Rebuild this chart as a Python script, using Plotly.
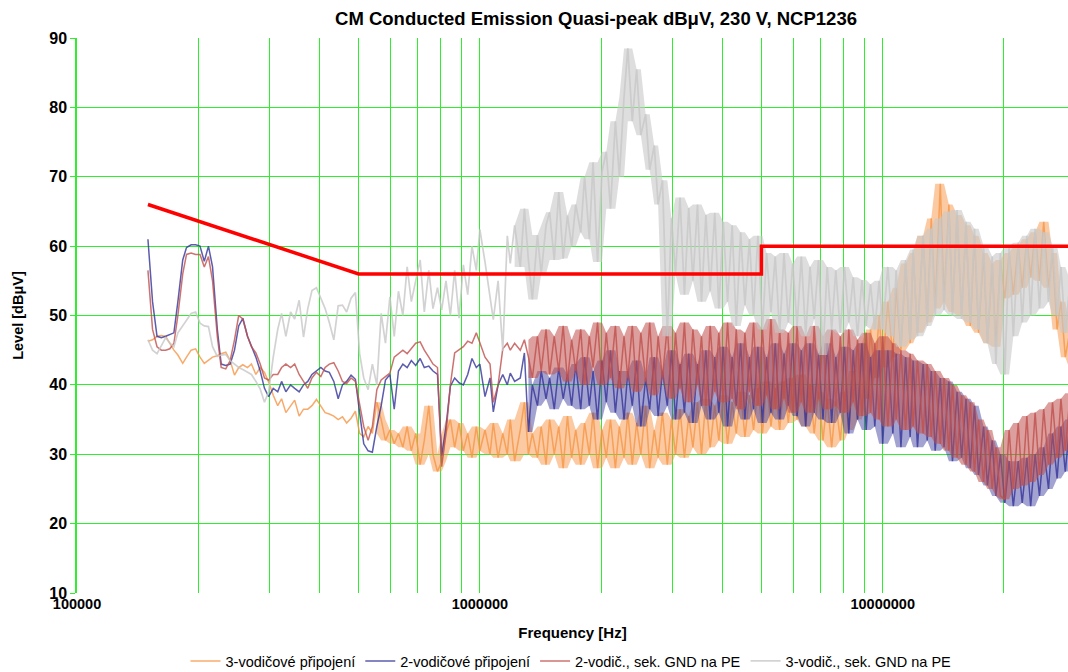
import plotly.graph_objects as go

# ---------------- data ----------------
freq_mhz = [
    0.150, 0.154, 0.158, 0.162, 0.166, 0.170, 0.174, 0.178, 0.183, 0.187,
    0.192, 0.197, 0.202, 0.207, 0.212, 0.217, 0.223, 0.228, 0.234, 0.240,
    0.246, 0.252, 0.258, 0.265, 0.271, 0.278, 0.285, 0.292, 0.299, 0.307,
    0.315, 0.322, 0.330, 0.339, 0.347, 0.356, 0.365, 0.374, 0.383, 0.393,
    0.403, 0.413, 0.423, 0.434, 0.445, 0.456, 0.467, 0.479, 0.491, 0.503,
    0.515, 0.528, 0.541, 0.555, 0.569, 0.583, 0.598, 0.613, 0.628, 0.644,
    0.660, 0.676, 0.693, 0.711, 0.728, 0.747, 0.765, 0.785, 0.804, 0.824,
    0.845, 0.866, 0.888, 0.910, 0.933, 0.956, 0.980, 1.00, 1.03, 1.06,
    1.08, 1.11, 1.14, 1.17, 1.19, 1.22, 1.26, 1.29, 1.32, 1.35,
    1.39, 1.42, 1.46, 1.49, 1.53, 1.57, 1.61, 1.65, 1.69, 1.73,
    1.78, 1.82, 1.87, 1.91, 1.96, 2.01, 2.06, 2.11, 2.17, 2.22,
    2.28, 2.33, 2.39, 2.45, 2.51, 2.58, 2.64, 2.71, 2.77, 2.84,
    2.92, 2.99, 3.06, 3.14, 3.22, 3.30, 3.38, 3.47, 3.55, 3.64,
    3.73, 3.83, 3.92, 4.02, 4.12, 4.23, 4.33, 4.44, 4.55, 4.67,
    4.78, 4.90, 5.03, 5.15, 5.28, 5.41, 5.55, 5.69, 5.83, 5.98,
    6.13, 6.28, 6.44, 6.60, 6.76, 6.93, 7.11, 7.28, 7.47, 7.65,
    7.85, 8.04, 8.24, 8.45, 8.66, 8.88, 9.10, 9.33, 9.56, 9.80,
    10.0, 10.3, 10.6, 10.8, 11.1, 11.4, 11.7, 11.9, 12.2, 12.6,
    12.9, 13.2, 13.5, 13.9, 14.2, 14.6, 14.9, 15.3, 15.7, 16.1,
    16.5, 16.9, 17.3, 17.8, 18.2, 18.7, 19.1, 19.6, 20.1, 20.6,
    21.1, 21.7, 22.2, 22.8, 23.3, 23.9, 24.5, 25.1, 25.8, 26.4,
    27.1, 27.7, 28.4, 29.2, 29.9,
]

orange_3vod = [
    46.3, 46.5, 47.0, 47.1, 47.0, 46.0, 45.0, 44.3, 43.1, 44.0,
    45.0, 45.2, 44.0, 43.1, 43.5, 44.0, 44.2, 44.5, 44.7, 43.5,
    41.4, 42.5, 42.9, 42.5, 43.0, 41.5, 42.5, 41.8, 40.4, 38.5,
    37.0, 38.0, 36.0, 37.0, 37.8, 35.5, 36.5, 36.5, 37.0, 37.9,
    37.0, 36.0, 35.8, 35.5, 35.0, 35.4, 34.5, 35.2, 36.2, 33.0,
    32.5, 34.0, 33.0, 37.5, 35.0, 32.0, 33.5, 31.5, 33.0, 31.0,
    34.0, 30.5, 33.0, 28.5, 32.0, 37.0, 30.0, 27.5, 29.0, 33.0,
    35.0, 31.0, 34.5, 30.5, 33.0, 29.5, 34.0, 30.5, 33.5, 30.0,
    34.5, 29.5, 33.0, 30.0, 35.0, 29.0, 33.5, 37.5, 30.0, 33.0,
    29.5, 34.0, 28.5, 35.0, 30.0, 34.0, 28.0, 35.5, 29.5, 33.5,
    28.5, 34.5, 30.0, 36.0, 28.0, 33.5, 29.5, 35.0, 28.0, 34.0,
    29.5, 36.0, 28.5, 34.5, 30.0, 37.0, 28.0, 33.5, 29.5, 36.0,
    28.5, 35.0, 30.0, 36.5, 29.5, 35.5, 31.0, 37.5, 30.0, 38.0,
    31.0, 37.0, 32.0, 38.5, 31.5, 37.5, 33.0, 39.0, 32.5, 38.5,
    33.5, 39.5, 33.0, 40.5, 34.0, 39.5, 33.5, 40.5, 34.5, 41.0,
    35.0, 41.5, 34.0, 40.0, 33.0, 39.0, 32.0, 38.0, 31.0, 37.5,
    32.0, 39.0, 33.5, 42.0, 35.0, 46.0, 38.0, 48.0, 41.0, 50.0,
    42.5, 52.0, 44.0, 54.0, 45.0, 57.5, 46.0, 59.0, 47.5, 61.5,
    49.0, 64.0, 51.0, 69.0, 52.0, 66.0, 50.5, 64.5, 50.0, 63.0,
    48.5, 61.5, 47.5, 59.0, 46.0, 57.5, 45.5, 58.0, 52.5, 59.0,
    53.0, 60.0, 54.0, 61.0, 55.5, 62.0, 55.0, 63.5, 54.0, 59.0,
    48.0, 52.0, 44.0, 48.0, 42.0,
]

blue_2vod = [
    61.0, 52.0, 47.0, 46.8, 47.0, 47.2, 47.5, 52.0, 58.0, 59.8,
    60.2, 60.2, 60.0, 57.8, 60.0, 57.0, 48.0, 43.0, 42.8, 43.0,
    45.0, 48.5, 49.6, 47.0, 45.5, 44.0, 42.0, 39.5, 38.3, 39.5,
    39.0, 40.5, 39.0, 40.0, 39.5, 39.0, 40.0, 40.5, 41.5, 42.0,
    42.5, 42.0, 41.8, 40.5, 38.0, 40.0, 40.5, 41.4, 40.8, 36.0,
    31.5, 30.5, 30.3, 34.0, 37.0, 40.7, 41.5, 36.5, 42.0, 43.0,
    42.5, 43.5, 42.8, 43.8, 42.5, 42.7, 42.0, 41.5, 29.8, 34.0,
    39.8, 41.0, 40.3, 40.0, 41.5, 43.8, 42.5, 43.0, 38.3, 41.0,
    36.1, 40.0, 41.5, 40.0, 41.7, 40.5, 41.0, 44.6, 33.2, 40.0,
    37.0, 42.0, 38.0, 41.0, 36.5, 42.5, 38.0, 41.5, 37.0, 43.0,
    36.5, 44.0, 37.0, 42.0, 35.0, 43.5, 37.5, 45.0, 36.0, 42.0,
    35.0, 42.0, 37.0, 43.5, 34.0, 41.0, 36.5, 44.0, 35.5, 42.0,
    37.0, 45.0, 35.0, 43.0, 36.0, 44.5, 34.5, 43.0, 37.0, 45.0,
    35.0, 44.0, 36.0, 45.5, 34.0, 44.0, 37.0, 46.0, 35.0, 44.0,
    36.5, 45.5, 34.5, 44.0, 36.0, 46.0, 35.0, 44.5, 37.0, 46.0,
    35.5, 45.0, 34.0, 46.0, 36.0, 44.5, 35.0, 46.0, 34.5, 44.0,
    36.0, 45.5, 33.0, 45.0, 35.0, 46.0, 33.5, 44.0, 34.0, 45.0,
    31.5, 45.0, 33.0, 44.5, 31.0, 44.0, 32.5, 43.5, 31.0, 43.0,
    32.0, 42.0, 30.5, 41.0, 31.0, 40.5, 29.0, 39.0, 29.5, 38.0,
    28.0, 37.0, 27.0, 34.0, 25.5, 32.0, 24.0, 30.0, 23.0, 29.0,
    22.5, 29.0, 23.0, 29.5, 22.5, 30.0, 24.0, 31.0, 25.0, 33.0,
    26.5, 34.0, 27.5, 35.0, 29.0,
]

red_2vod_gnd = [
    56.5, 48.0, 45.5, 45.0, 45.0, 45.2, 46.0, 50.0, 56.0, 58.8,
    59.0, 58.8, 58.8, 57.0, 58.5, 55.0, 47.0, 42.5, 42.3, 43.5,
    46.5, 50.0, 49.5, 47.0, 45.5, 44.6, 43.0, 41.0, 40.7, 41.5,
    41.5, 42.5, 43.0, 42.5, 43.0, 41.5, 40.5, 39.5, 41.0, 41.8,
    41.2, 42.5, 43.0, 43.2, 42.0, 40.5, 40.2, 41.0, 40.5, 37.0,
    34.0, 32.0, 34.0, 39.3, 40.7, 41.2, 41.7, 44.0, 44.5, 45.0,
    44.5, 45.2, 46.0, 46.2, 45.0, 44.0, 43.0, 42.5, 28.2, 33.0,
    40.0, 44.6, 45.0, 45.5, 46.3, 46.0, 47.5, 46.0, 44.0, 43.0,
    37.5, 40.0, 45.2, 46.0, 45.0, 46.0, 45.0, 46.5, 44.0, 41.0,
    47.0, 42.0, 48.0, 41.5, 47.0, 42.0, 48.5, 40.5, 46.5, 42.0,
    48.0, 40.0, 47.0, 42.5, 49.0, 40.0, 47.5, 41.0, 48.5, 39.5,
    47.0, 41.0, 48.5, 39.0, 47.5, 40.5, 49.0, 38.5, 47.0, 41.0,
    48.5, 38.0, 47.5, 39.5, 49.0, 37.5, 48.0, 40.0, 47.0, 37.0,
    48.5, 39.0, 47.5, 37.5, 49.0, 38.0, 48.0, 36.5, 47.5, 39.0,
    49.0, 37.0, 48.0, 38.5, 49.5, 36.5, 48.0, 38.0, 47.5, 36.0,
    48.5, 37.5, 47.0, 36.0, 48.5, 38.0, 47.0, 36.5, 48.0, 37.0,
    47.0, 36.0, 48.0, 37.5, 46.5, 35.5, 47.5, 36.0, 46.0, 35.0,
    47.0, 34.0, 46.0, 35.0, 45.0, 33.5, 44.5, 34.0, 43.5, 33.0,
    43.0, 32.5, 42.0, 31.5, 41.0, 30.5, 40.0, 29.5, 38.5, 28.5,
    37.5, 27.5, 35.0, 26.0, 33.5, 25.0, 31.0, 24.0, 23.5, 33.5,
    25.0, 34.5, 25.5, 35.5, 26.0, 36.0, 27.0, 36.5, 28.5, 37.5,
    29.5, 38.0, 30.5, 38.8, 31.0,
]

gray_3vod_gnd = [
    46.5, 45.0, 44.5, 45.7, 46.8, 46.0, 45.5, 47.5, 48.5, 49.4,
    50.3, 50.5, 48.9, 48.5, 48.4, 45.5, 44.1, 44.3, 44.4, 43.5,
    43.0, 42.5, 42.2, 41.8, 41.5, 40.5, 39.4, 37.5, 39.0, 44.0,
    48.0, 50.3, 47.0, 50.5, 49.5, 52.2, 46.9, 51.0, 53.6, 54.0,
    52.5, 51.0, 49.0, 46.5, 51.4, 51.5, 50.5, 52.5, 53.3, 44.5,
    41.0, 39.3, 43.0, 40.0, 50.3, 46.0, 52.7, 47.0, 53.5, 50.0,
    57.0, 52.0, 55.0, 58.0, 50.5, 56.5, 51.0, 54.0, 50.8, 55.0,
    50.0, 56.5, 49.6, 57.3, 53.0, 60.0, 56.5, 62.4, 57.7, 53.0,
    49.4, 55.0, 44.9, 61.5, 57.5, 63.0, 57.0, 65.4, 58.0, 52.3,
    61.6, 56.0, 63.0, 64.9, 58.0, 67.8, 58.2, 64.4, 60.0, 66.0,
    62.0, 70.0, 61.0, 72.1, 57.7, 70.7, 73.6, 65.4, 78.0, 70.0,
    81.5, 88.5, 78.0, 85.5, 76.0, 79.0, 71.0, 74.5, 66.0, 69.5,
    47.0, 64.0, 56.0, 67.0, 53.0, 65.5, 55.0, 66.0, 52.0, 64.5,
    53.5, 64.8, 51.0, 63.5, 52.0, 63.0, 48.5, 62.0, 51.5, 61.0,
    50.0, 61.5, 48.0, 59.0, 50.5, 58.5, 47.5, 59.0, 49.0, 57.5,
    48.5, 58.5, 47.0, 57.0, 49.5, 58.0, 44.3, 57.0, 48.0, 56.5,
    47.5, 57.0, 49.0, 55.5, 47.0, 55.1, 48.5, 54.5, 48.0, 55.0,
    48.0, 57.0, 47.0, 56.5, 45.5, 58.0, 46.5, 59.5, 47.0, 61.5,
    48.5, 62.5, 50.0, 64.0, 50.8, 65.0, 50.0, 65.2, 49.5, 63.5,
    49.0, 62.5, 48.0, 60.0, 46.0, 58.5, 43.0, 59.0, 41.5, 60.0,
    47.0, 60.5, 49.0, 61.5, 50.0, 62.5, 51.0, 62.0, 52.0, 60.0,
    50.0, 57.0, 47.5, 55.0, 48.0,
]

limit_mhz = [0.15, 0.5, 5.0, 5.0, 30.0]
limit_dbuv = [66, 56, 56, 60, 60]

series_names = [
    "3-vodičové připojení",
    "2-vodičové připojení",
    "2-vodič., sek. GND na PE",
    "3-vodič., sek. GND na PE",
]

x_tickvals = [1e5, 1e6, 1e7]
x_ticktext = ["100000", "1000000", "10000000"]
x_minor = [2e5, 3e5, 4e5, 5e5, 6e5, 7e5, 8e5, 9e5,
           2e6, 3e6, 4e6, 5e6, 6e6, 7e6, 8e6, 9e6,
           2e7, 3e7]
y_tickvals = [10, 20, 30, 40, 50, 60, 70, 80, 90]

title_text = "CM Conducted Emission Quasi-peak dBμV, 230 V, NCP1236"
x_title = "Frequency [Hz]"
y_title = "Level [dBμV]"

# ---------------- styles ----------------
series_rgb = [(247, 150, 70), (52, 52, 154), (192, 80, 77), (200, 200, 200)]
band_start_mhz = [0.55, 1.3, 1.3, 1.2]      # where the trace becomes a dense noise band
band_alpha = [0.50, 0.45, 0.55, 0.60]
line_widths = [1.5, 1.5, 1.5, 1.7]

FONT = "Liberation Sans, Arial, sans-serif"
GRID = "#2EEE2E"
L, R, T, B = 77, 0, 38, 79
W, H = 1068, 672
PW = W - L - R
PH = H - T - B

# ---------------- figure ----------------
freq_hz = [f * 1e6 for f in freq_mhz]
series = [orange_3vod, blue_2vod, red_2vod_gnd, gray_3vod_gnd]
n = min(len(freq_hz), *[len(s) for s in series])

fig = go.Figure()
for name, rgb, vals, fstart, alpha, lw in zip(series_names, series_rgb, series,
                                              band_start_mhz, band_alpha, line_widths):
    vals = vals[:n]
    # envelope of the noisy part (local min / max of neighbouring readings)
    idx = [i for i in range(n) if freq_mhz[i] >= fstart]
    bx = [freq_hz[i] for i in idx]
    up = [max(vals[max(i - 1, 0):i + 2]) for i in idx]
    lo = [min(vals[max(i - 1, 0):i + 2]) for i in idx]
    fill_col = "rgba(%d,%d,%d,%.2f)" % (rgb + (alpha,))
    fig.add_trace(go.Scatter(x=bx, y=lo, mode="lines", line=dict(width=0),
                             showlegend=False, hoverinfo="skip"))
    fig.add_trace(go.Scatter(x=bx, y=up, mode="lines", line=dict(width=0),
                             fill="tonexty", fillcolor=fill_col,
                             showlegend=False, hoverinfo="skip"))
    fig.add_trace(go.Scatter(
        x=freq_hz[:n], y=vals, mode="lines", name=name,
        line=dict(color="rgb(%d,%d,%d)" % rgb, width=lw), opacity=0.8,
    ))

fig.add_trace(go.Scatter(
    x=[f * 1e6 for f in limit_mhz], y=limit_dbuv, mode="lines",
    line=dict(color="#FF0000", width=3.5), showlegend=False, hoverinfo="skip",
))

fig.update_layout(
    width=W, height=H,
    autosize=False,
    margin=dict(l=L, r=R, t=T, b=B, autoexpand=False),
    paper_bgcolor="white", plot_bgcolor="white",
    font=dict(family=FONT, color="black"),
    title=dict(text=title_text, x=596 / W, xanchor="center", xref="container",
               y=1 - 19 / H, yanchor="middle", yref="container",
               font=dict(family=FONT, size=18.5, weight="bold", color="black")),
    legend=dict(orientation="h", x=(571 - L) / PW, xanchor="center", xref="paper",
                y=(593 - 661) / PH, yanchor="middle", yref="paper",
                font=dict(family=FONT, size=14.5, color="black"),
                bgcolor="rgba(0,0,0,0)", itemwidth=30, traceorder="normal"),
    showlegend=True,
)

fig.update_xaxes(
    type="log", range=[5, 7.46], automargin=False,
    tickvals=x_tickvals, ticktext=x_ticktext,
    tickfont=dict(family=FONT, size=14.5, weight="bold", color="black"),
    showgrid=True, gridcolor=GRID, gridwidth=1,
    minor=dict(tickvals=x_minor, showgrid=True, gridcolor=GRID, gridwidth=1, ticks=""),
    ticks="", showline=False, zeroline=False,
    title=dict(text=x_title, font=dict(family=FONT, size=15, weight="bold", color="black"),
               standoff=16),
)

fig.update_yaxes(
    range=[10, 90], tickvals=y_tickvals, automargin=False,
    tickfont=dict(family=FONT, size=16, weight="bold", color="black"),
    showgrid=True, gridcolor=GRID, gridwidth=1,
    showline=True, linecolor=GRID, linewidth=1.5,
    ticks="outside", ticklen=5, tickcolor=GRID,
    zeroline=False,
    title=dict(text=y_title, font=dict(family=FONT, size=14.5, weight="bold", color="black"),
               standoff=22),
)

fig.write_html("out.html", config={"displayModeBar": False},
               post_script="document.body.style.margin='0';")
